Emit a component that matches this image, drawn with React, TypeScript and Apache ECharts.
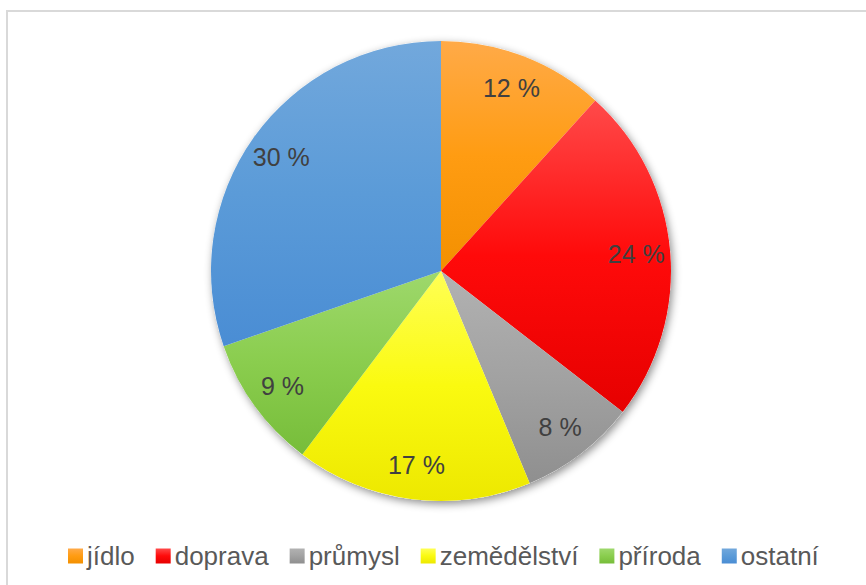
import React, { useEffect, useRef } from "react";
import * as echarts from "echarts";

const categories = ["jídlo", "doprava", "průmysl", "zemědělství", "příroda", "ostatní"];
const shares = [11.7, 23.8, 8.2, 16.6, 9.4, 30.3];

const palette: [string, string, string][] = [
  ["#FFAA48", "#FF9C12", "#F39000"],
  ["#FF4A4A", "#FF0A0A", "#E60000"],
  ["#B2B2B2", "#A2A2A2", "#8F8F8F"],
  ["#FFFF55", "#FAFA10", "#EDE800"],
  ["#9ED86C", "#8ACD4E", "#77BD3A"],
  ["#72A8DC", "#5B9BD8", "#4A8DD4"],
];

const grad = (c: [string, string, string]) =>
  new echarts.graphic.LinearGradient(0, 0, 0, 1, [
    { offset: 0, color: c[0] },
    { offset: 0.5, color: c[1] },
    { offset: 1, color: c[2] },
  ]);

export default function App() {
  const ref = useRef<HTMLDivElement>(null);
  useEffect(() => {
    if (!ref.current) return;
    const chart = echarts.init(ref.current, null, { renderer: "svg" });
    const FONT = "'Liberation Sans', Arial, sans-serif";
    const data = categories.map((name, i) => ({
      name,
      value: shares[i],
      itemStyle: { color: grad(palette[i]) },
    }));
    chart.setOption({
      animation: false,
      backgroundColor: "#ffffff",
      graphic: [
        {
          type: "rect",
          shape: { x: 7, y: 11, width: 900, height: 700 },
          style: { fill: "none", stroke: "#d9d9d9", lineWidth: 2 },
          silent: true,
        },
      ],
      legend: {
        data: categories,
        left: 63,
        top: 538,
        icon: "rect",
        itemWidth: 15,
        itemHeight: 15,
        itemGap: 21,
        textStyle: { color: "#595959", fontSize: 26, fontFamily: FONT, padding: [0, 0, 0, -1] },
      },
      series: [
        {
          type: "pie",
          silent: true,
          center: [441, 271],
          radius: [0, 230],
          z: 1,
          label: { show: false },
          labelLine: { show: false },
          itemStyle: {
            color: "#ffffff",
            shadowBlur: 8,
            shadowColor: "rgba(0,0,0,0.45)",
            shadowOffsetX: 2,
            shadowOffsetY: 3,
          },
          data: [{ name: "_bg", value: 1 }],
        },
        {
          type: "pie",
          silent: true,
          center: [441, 271],
          radius: [0, 230],
          startAngle: 90,
          clockwise: true,
          z: 2,
          label: { show: false },
          labelLine: { show: false },
          itemStyle: { borderWidth: 0 },
          data,
        },
        {
          type: "pie",
          silent: true,
          center: [441, 271],
          radius: [156, 230],
          startAngle: 90,
          clockwise: true,
          z: 3,
          legendHoverLink: false,
          itemStyle: { color: "rgba(0,0,0,0)" },
          label: {
            show: true,
            position: "inside",
            formatter: (p: any) => Math.round(p.value) + " %",
            color: "#404040",
            fontSize: 25,
            fontFamily: FONT,
          },
          labelLine: { show: false },
          data: categories.map((name, i) => ({ name: name + " ", value: shares[i] })),
        },
      ],
    });
    return () => chart.dispose();
  }, []);
  return (
    <div
      ref={ref}
      style={{ position: "fixed", left: 0, top: 0, width: 866, height: 585 }}
    />
  );
}
